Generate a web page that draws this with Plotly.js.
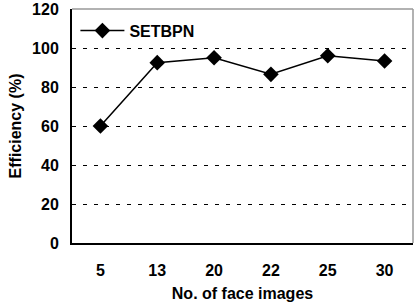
<!DOCTYPE html>
<html><head><meta charset="utf-8">
<script src="https://cdn.plot.ly/plotly-3.0.1.min.js"></script>
<style>html,body{margin:0;padding:0;background:#fff}#c{width:420px;height:304px}</style>
</head><body><div id="c"></div>
<script>
const categories = ["5", "13", "20", "22", "25", "30"];
const efficiency = [60, 92.5, 95, 86.5, 96, 93.3];
const seriesName = "SETBPN";
const yTicks = [0, 20, 40, 60, 80, 100, 120];

const font = {family: "Liberation Sans, Arial, sans-serif", size: 16, color: "#000", weight: "bold"};
Plotly.newPlot("c", [{
  x: categories, y: efficiency, name: seriesName, type: "scatter", mode: "lines+markers",
  line: {color: "#000", width: 1.5},
  marker: {symbol: "diamond", size: 12, color: "#000"}
}], {
  width: 420, height: 304,
  margin: {l: 72, r: 7, t: 9, b: 61},
  paper_bgcolor: "#fff", plot_bgcolor: "#fff",
  font: font,
  showlegend: true,
  legend: {x: 0.01, y: 0.98, xanchor: "left", yanchor: "top", bgcolor: "rgba(0,0,0,0)", font: font, itemwidth: 44},
  xaxis: {type: "category", range: [-0.5, 5.5], showgrid: false, zeroline: false,
    showline: true, linecolor: "#000", linewidth: 2, ticks: "", ticklabelstandoff: 12,
    tickfont: font, title: {text: "No. of face images", font: font, standoff: 10}},
  yaxis: {range: [0, 120], tickvals: yTicks, showgrid: true, gridcolor: "#000", griddash: "4px,7px", gridwidth: 1,
    zeroline: false, showline: true, linecolor: "#000", linewidth: 2, ticks: "", tickfont: font, ticklabelstandoff: 8,
    title: {text: "Efficiency (%)", font: font, standoff: 6}},
  shapes: [
    {type: "line", xref: "paper", yref: "paper", x0: 0, x1: 1, y0: 1, y1: 1, line: {color: "#999", width: 1.5}},
    {type: "line", xref: "paper", yref: "paper", x0: 1, x1: 1, y0: 0, y1: 1, line: {color: "#999", width: 1.5}}
  ]
}, {displayModeBar: false, staticPlot: true});
</script></body></html>
